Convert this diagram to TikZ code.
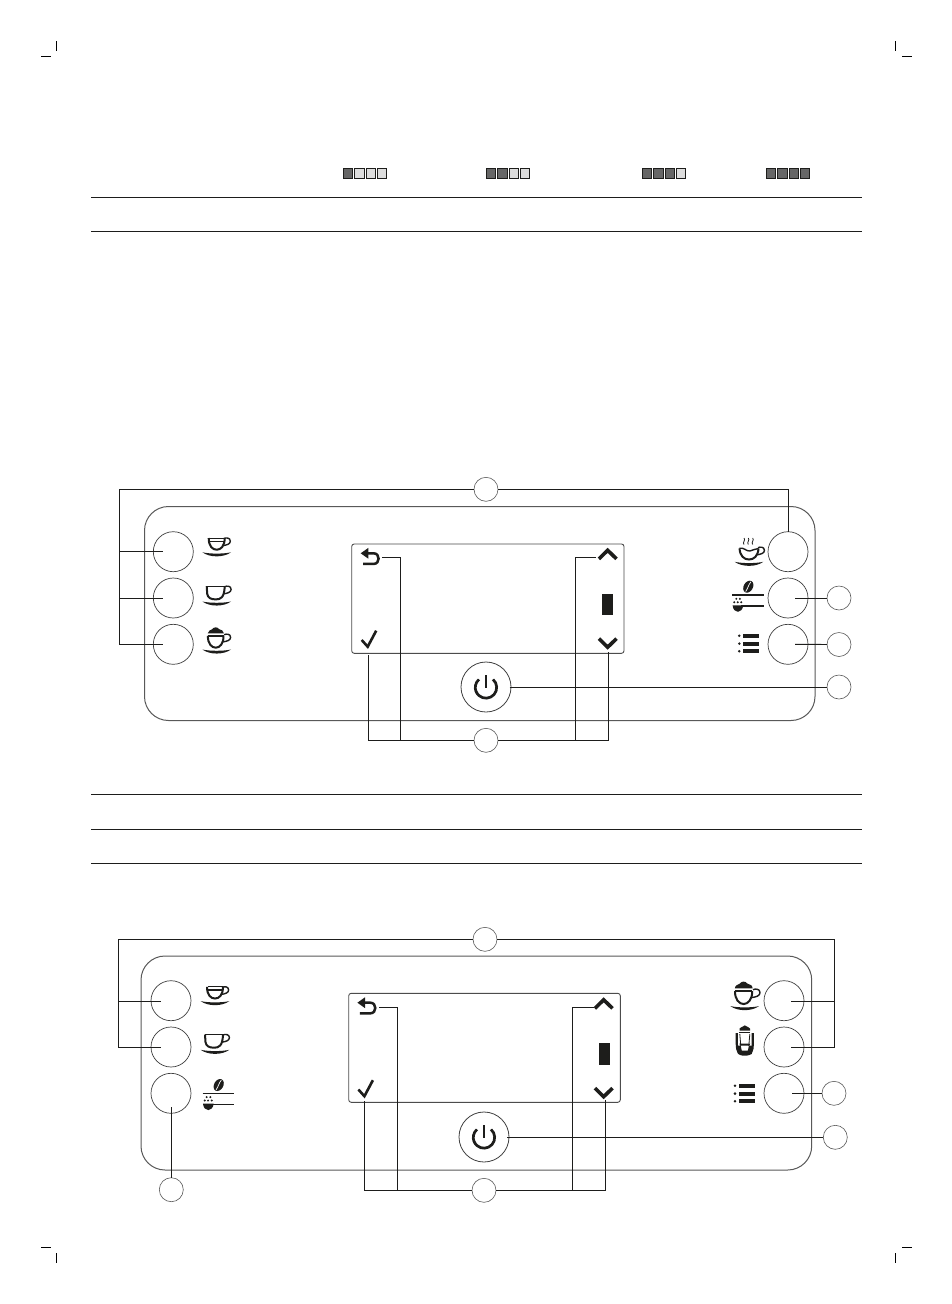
\documentclass[tikz,border=0pt]{standalone}
\usetikzlibrary{calc}
\definecolor{ink}{HTML}{1D1D1B}
\definecolor{sqdark}{HTML}{666666}
\definecolor{sqlight}{HTML}{DDDDDD}
\newcommand{\cuphandle}[2]{\draw[draw=ink,line width=1.4pt] (#1-3,#2-3) .. controls (#1-1,#2-4) and (#1+3.4,#2-4) .. (#1+3.4,#2-0.4) .. controls (#1+3.4,#2+2.6) and (#1,#2+3.6) .. (#1-4.5,#2+4.2);}
\tikzset{
  x=1pt,y=-1pt,
  rulel/.style={draw=ink,line width=0.8pt},
  crop/.style={draw=black,line width=0.9pt},
  panel/.style={draw=black!65,line width=1pt,rounded corners=24pt},
  disp/.style={draw=black!70,line width=0.9pt,rounded corners=2.5pt},
  btn/.style={circle,draw=black!75,line width=0.7pt,minimum size=40pt,inner sep=0pt,outer sep=0pt},
  pwr/.style={circle,draw=black!75,line width=0.8pt,minimum size=50pt,inner sep=0pt,outer sep=0pt},
  callout/.style={circle,draw=black!65,line width=0.6pt,minimum size=24pt,inner sep=0pt,outer sep=0pt},
  lead/.style={draw=ink,line width=0.95pt},
  sqd/.style={draw=ink,line width=1pt,fill=sqdark},
  sql/.style={draw=ink,line width=1pt,fill=sqlight},
  ico/.style={draw=ink,line width=2pt},
  saucer/.pic={\fill[ink] (-14.3,-1.2) .. controls (-7,4.2) and (7,4.2) .. (14.3,-1.2) .. controls (7,0.5) and (-7,0.5) .. (-14.3,-1.2) -- cycle;},
  espresso/.pic={
    \path pic {saucer};
    \draw[ico] (-8,-15.5) .. controls (-8,-7) and (-4,-3.8) .. (0,-3.8) .. controls (4,-3.8) and (8,-7) .. (8,-15.5);
    \draw[draw=ink,line width=0.7pt] (-7.5,-15.5) -- (7.5,-15.5);
    \draw[draw=ink,line width=1.3pt] (-7,-12.3) -- (7,-12.3);
    \cuphandle{10.2}{-12}
  },
  lungo/.pic={
    \path pic {saucer};
    \draw[ico] (-10,-16.5) -- (-9.5,-9) .. controls (-9,-5) and (-6,-3.3) .. (-1,-3.3) .. controls (4,-3.3) and (7.5,-5) .. (8,-16);
    \draw[draw=ink,line width=1.1pt] (-10,-16.5) -- (8,-16.5);
    \cuphandle{11}{-13}
  },
  cappu/.pic={
    \path pic {saucer};
    \draw[ico] (-8.8,-14.8) .. controls (-9,-7) and (-5,-3) .. (-1,-3) .. controls (3,-3) and (7,-7) .. (6.8,-14.8);
    \draw[draw=ink,line width=1.6pt] (-9,-15) -- (7,-15);
    \fill[ink] (-9,-17.3) .. controls (-8.5,-20.5) and (-6,-20.5) .. (-4.5,-21.5) .. controls (-3,-24) and (1,-24) .. (2.5,-21.5) .. controls (5,-20.5) and (6.8,-20.5) .. (7.2,-17.3) -- cycle;
    \cuphandle{10.5}{-13}
  },
  steamcup/.pic={
    \path pic {saucer};
    \draw[ico] (-9.5,-14.7) .. controls (-9,-7) and (-5,-3.5) .. (0,-3.5) .. controls (5,-3.5) and (9,-7) .. (9.5,-14.5);
    \draw[draw=ink,line width=1.4pt] (-9.5,-14.7) .. controls (-5,-16) and (-3,-11.5) .. (1,-12) .. controls (4,-12.5) and (6,-14.5) .. (9.5,-14.5);
    \cuphandle{12}{-12.3}
    \foreach \sx in {-5,-0.7,3.7}{
      \draw[draw=ink,line width=0.8pt] (\sx,-25) .. controls (\sx+2,-23) and (\sx-2,-20.5) .. (\sx,-18.5);
    }
  },
  beans/.pic={
    \fill[ink,rotate around={-30:(16,-8.3)}] (16,-8.3) ellipse[x radius=4.6pt,y radius=6.4pt];
    \draw[white,line width=0.7pt] (13.4,-3.5) .. controls (15.8,-7) and (16,-10) .. (18.6,-13.2);
    \draw[draw=ink,line width=1.2pt] (0,0) -- (31.5,0);
    \draw[draw=ink,line width=1.2pt] (9,11) -- (31.5,11);
    \fill[ink] (0.3,10.3) -- (11,10.3) .. controls (10.5,14.5) and (8,16.8) .. (5.6,16.8) .. controls (3,16.8) and (0.6,14.5) .. (0.3,10.3) -- cycle;
    \foreach \dx/\dy in {4/3.8,7.6/3.8,2/7.2,5.4/7.2,9/7.2}{
      \fill[ink] (\dx,\dy) circle[radius=1.1pt];
    }
  },
  menuicon/.pic={
    \foreach \my in {-7.9,0,7.6}{
      \fill[ink] (0,\my) circle[radius=1.4pt];
      \fill[ink] (4,\my-1.9) rectangle (20,\my+1.9);
    }
  },
  jugicon/.pic={
    \draw[draw=ink,line width=2.2pt] (-8,-9) -- (-8,2) .. controls (-8,9) and (-6,12.5) .. (-2,12.5) -- (2,12.5) .. controls (6,12.5) and (8,9) .. (8,2) -- (8,-9);
    \draw[draw=ink,line width=1.1pt] (-5.5,-9.5) -- (5.5,-9.5);
    \draw[draw=ink,line width=0.8pt] (-5,-8) -- (-4,4) (5,-8) -- (4,4);
    \fill[ink] (-5.2,-11.5) -- (-5.2,-13.5) .. controls (-4,-15) and (-2.5,-15) .. (-2,-15.5) .. controls (-1,-17) and (1,-17) .. (2,-15.5) .. controls (2.5,-15) and (4,-15) .. (5.2,-13.5) -- (5.2,-11.5) -- cycle;
    \fill[ink] (-5.5,1.5) -- (5.5,1.5) -- (4.6,3.6) -- (-4.6,3.6) -- cycle;
    \fill[ink] (-7,3.6) -- (-4.2,3.6) -- (-3,8.6) -- (3,8.6) -- (4.2,3.6) -- (7,3.6) -- (7,12) -- (-7,12) -- cycle;
  },
  backicon/.pic={
    \fill[ink] (0,0) -- (7.6,-5.4) -- (7.6,5.4) -- cycle;
    \draw[draw=ink,line width=2.5pt] (6,0) -- (13,0) .. controls (19.5,0) and (19.5,10.6) .. (13,10.6) -- (2.5,10.6);
  },
  tickicon/.pic={\draw[draw=ink,line width=2.6pt,line join=miter] (0,0) -- (6,6.7) -- (14.5,-9.3);},
  chevup/.pic={\draw[draw=ink,line width=3.6pt] (-8.8,4.2) -- (0,-4.4) -- (8.8,4.2);},
  chevdown/.pic={\draw[draw=ink,line width=3.6pt] (-8.8,-4.2) -- (0,4.4) -- (8.8,-4.2);},
  powericon/.pic={
    \draw[draw=ink,line width=2.7pt] (7,-8.1) arc[start angle=49,end angle=-229,radius=10.7pt];
    \draw[draw=ink,line width=2.7pt] (0,-12.5) -- (0,0.5);
  },
}
\begin{document}
\begin{tikzpicture}
\useasboundingbox (0,0) rectangle (952,1304);
\fill[white] (0,0) rectangle (952,1304);

% crop marks
\draw[crop] (41,56.3) -- (51,56.3) (56.3,41) -- (56.3,51);
\draw[crop] (902,56.3) -- (912,56.3) (895.3,41) -- (895.3,51);
\draw[crop] (41,1247.3) -- (51,1247.3) (56.3,1253) -- (56.3,1263);
\draw[crop] (902,1247.3) -- (912,1247.3) (895.3,1253) -- (895.3,1263);

% level squares
\foreach \gx/\nd in {343.5/1,486.5/2,642.5/3,766.5/4}{
  \foreach \i in {0,1,2,3}{
    \pgfmathsetmacro{\qx}{\gx+\i*11.3}
    \ifnum\i<\nd\relax
      \draw[sqd] (\qx,168.5) rectangle ++(9.3,9.7);
    \else
      \draw[sql] (\qx,168.5) rectangle ++(9.3,9.7);
    \fi
  }
}

% rules
\foreach \ry in {197.5,231.5,794.5,829,863.5}{
  \draw[rulel] (91,\ry) -- (862,\ry);
}

%%% PANEL 1
\draw[panel] (144.5,506.5) rectangle (815,720.5);
\draw[disp] (351.7,544) rectangle (624,653.3);
\node[btn] (al) at (173.3,551.7) {};
\node[btn] (bl) at (173.3,598) {};
\node[btn] (cl) at (173.3,644.3) {};
\node[btn] (ar) at (788,551.7) {};
\node[btn] (br) at (788,598) {};
\node[btn] (cr) at (788,644.3) {};
\node[pwr] (pw) at (486,687) {};
\node[callout] (ct) at (486,489.3) {};
\node[callout] (cb) at (486,740.3) {};
\node[callout] (c1) at (839,598) {};
\node[callout] (c2) at (839,644.5) {};
\node[callout] (c3) at (839,687) {};
\path (216.7,553.5) pic {espresso};
\path (216.7,602.7) pic {lungo};
\path (216.7,650.7) pic {cappu};
\path (749,563) pic {steamcup};
\path (732.3,595) pic {beans};
\path (739.3,643.6) pic {menuicon};
\path (360.7,553.3) pic {backicon};
\path (361.7,640) pic {tickicon};
\path (607.7,554.7) pic {chevup};
\path (607.7,642.8) pic {chevdown};
\fill[ink] (602,593.7) rectangle (613,615);
\path (486,687.5) pic {powericon};
\coordinate (alend) at (163,551.7);
\coordinate (blend) at (163,598);
\coordinate (clend) at (163,644.3);
\coordinate (brend) at (795,598);
\coordinate (crend) at (795,644.3);
\coordinate (pwend) at (509.5,687);
\coordinate (backend) at (382,557);
\coordinate (upend) at (596,557);
\coordinate (tickend) at (368,655);
\coordinate (downend) at (608.5,652);
\coordinate (arend) at (788.5,532);
\draw[lead] (ct.west) -| (119.5,644.3) -- (clend);
\draw[lead] (119.5,551.7) -- (alend);
\draw[lead] (119.5,598) -- (blend);
\draw[lead] (ct.east) -| (arend);
\draw[lead] (brend) -- (c1.west);
\draw[lead] (crend) -- (c2.west);
\draw[lead] (pwend) -- (c3.west);
\draw[lead] (cb.west) -| (tickend);
\draw[lead] (cb.east) -| (downend);
\draw[lead] (backend) -| (400.5,740.3);
\draw[lead] (upend) -| (575.5,740.3);

%%% PANEL 2
\draw[panel] (141,956) rectangle (811.7,1170);
\draw[disp] (348.7,993.3) rectangle (620.3,1102.3);
\node[btn] (dl) at (171,1000.7) {};
\node[btn] (el) at (171,1047) {};
\node[btn] (fl) at (171,1093.3) {};
\node[btn] (dr) at (784,1000.7) {};
\node[btn] (er) at (784,1047) {};
\node[btn] (fr) at (784,1093.3) {};
\node[pwr] (pwb) at (484,1137) {};
\node[callout] (dt) at (485,939.3) {};
\node[callout] (db) at (484,1190.3) {};
\node[callout] (dc) at (171.3,1189.7) {};
\node[callout] (d1) at (834,1093.3) {};
\node[callout] (d2) at (835.3,1137.3) {};
\path (215,1002.3) pic {espresso};
\path (215,1051) pic {lungo};
\path (202.7,1093.3) pic {beans};
\path (744.7,1007.3) pic[scale=1.1] {cappu};
\path (744.8,1042) pic {jugicon};
\path (735,1093.6) pic {menuicon};
\path (357.4,1002.7) pic {backicon};
\path (358.4,1089.5) pic {tickicon};
\path (603.7,1004.2) pic {chevup};
\path (603.7,1092.3) pic {chevdown};
\fill[ink] (599,1042.7) rectangle (610,1065);
\path (484,1137.5) pic {powericon};
\coordinate (dlend) at (161,1001);
\coordinate (elend) at (161,1047.3);
\coordinate (drend) at (791,1001);
\coordinate (erend) at (791,1047.3);
\coordinate (frend) at (792,1093.3);
\coordinate (flend) at (171.3,1107);
\coordinate (pwbend) at (507,1137.3);
\coordinate (backb) at (379,1007.5);
\coordinate (upb) at (594,1007.5);
\coordinate (tickb) at (364.7,1101);
\coordinate (downb) at (605.3,1100);
\draw[lead] (dt.west) -| (118.3,1047.3) -- (elend);
\draw[lead] (118.3,1001) -- (dlend);
\draw[lead] (dt.east) -| (834.3,1047.3) -- (erend);
\draw[lead] (834.3,1001) -- (drend);
\draw[lead] (frend) -- (d1.west);
\draw[lead] (flend) -- (dc.north);
\draw[lead] (pwbend) -- (d2.west);
\draw[lead] (db.west) -| (tickb);
\draw[lead] (db.east) -| (downb);
\draw[lead] (backb) -| (397,1190.3);
\draw[lead] (upb) -| (572.3,1190.3);
\end{tikzpicture}
\end{document}
